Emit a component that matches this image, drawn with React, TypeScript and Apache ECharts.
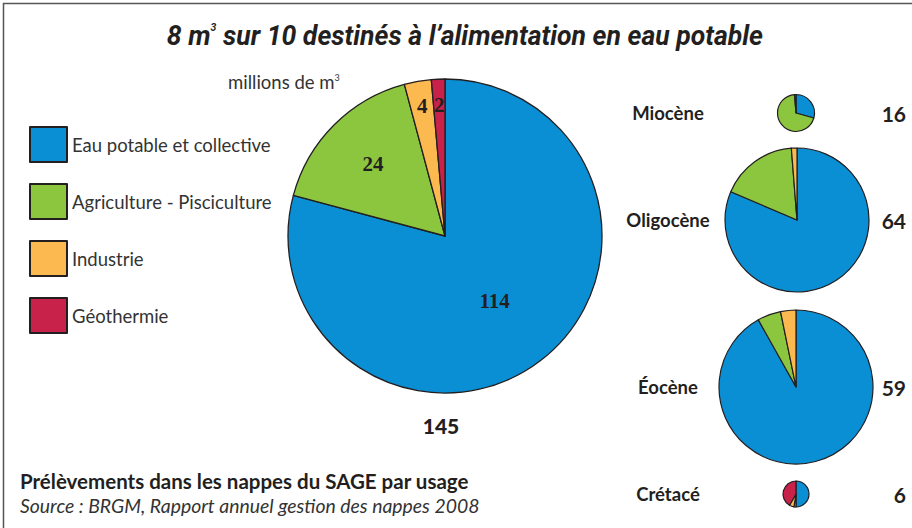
import React, { useEffect, useRef } from 'react';
import * as echarts from 'echarts';

const categories = ['Eau potable et collective', 'Agriculture - Pisciculture', 'Industrie', 'Géothermie'];
const colors = ['#0a8fd5', '#8cc63f', '#fbb950', '#c8224a'];
const mainValues = [114, 24, 4, 2];
const mainTotal = '145';
const aquifers = ['Miocène', 'Oligocène', 'Éocène', 'Crétacé'];
const aquiferTotals = ['16', '64', '59', '6'];
const miocene = [4.7, 11.1, 0.2, 0];
const oligocene = [52.1, 11.1, 0.8, 0];
const eocene = [54.2, 2.9, 1.9, 0];
const cretace = [3.0, 0.15, 0.35, 2.5];

const aquiferValues = [miocene, oligocene, eocene, cretace];
const aquiferCenters = [[796, 113], [797, 220], [796, 387], [796, 494]];
const aquiferRadii = [18.5, 72, 77, 13];

const INK = '#231f20';
const SANS = 'Lato, "Open Sans", sans-serif';
const SERIF = '"Liberation Serif", "DejaVu Serif", serif';
const TITLE_FONT = 'Roboto, "Liberation Sans", sans-serif';

export default function App() {
  const ref = useRef<HTMLDivElement>(null);
  useEffect(() => {
    const chart = echarts.init(ref.current!, null, { renderer: 'svg' });
    const mainCenter = [445, 236];
    const mainR = 157;
    const labelStyle = { fontFamily: SERIF, fontWeight: 'bold', fontSize: 21, color: INK };

    const mainData = mainValues.map((v, i) => ({
      name: categories[i],
      value: v,
      itemStyle: { color: colors[i] },
      label: { show: i === 0 },
    }));
    const overlay = (r0: number, show: number[]) => ({
      type: 'pie',
      silent: true,
      center: mainCenter,
      radius: [r0, mainR],
      startAngle: 90,
      clockwise: true,
      labelLine: { show: false },
      itemStyle: { color: 'transparent', borderWidth: 0 },
      emphasis: { disabled: true },
      label: { show: true, position: 'inside', formatter: '{c}', ...labelStyle },
      data: mainValues.map((v, i) => ({
        name: categories[i] + ' ',
        value: v,
        label: { show: show.includes(i) },
      })),
    });

    const smallPies = aquiferValues.map((vals, k) => ({
      type: 'pie',
      silent: true,
      center: aquiferCenters[k],
      radius: aquiferRadii[k],
      startAngle: 90,
      clockwise: true,
      label: { show: false },
      labelLine: { show: false },
      itemStyle: { borderColor: INK, borderWidth: 1.2 },
      data: vals
        .map((v, i) => ({ name: categories[i], value: v, itemStyle: { color: colors[i] } }))
        .filter((d) => d.value > 0),
    }));

    const texts: any[] = [];
    aquifers.forEach((name, k) => {
      texts.push({
        type: 'text',
        x: 668,
        y: aquiferCenters[k][1],
        style: { text: name, fontFamily: SANS, fontWeight: 'bold', fontSize: 18.5, fill: INK, align: 'center', verticalAlign: 'middle' },
      });
      texts.push({
        type: 'text',
        x: 906,
        y: aquiferCenters[k][1],
        style: { text: aquiferTotals[k], fontFamily: SANS, fontWeight: 'bold', fontSize: 21, fill: INK, align: 'right', verticalAlign: 'middle' },
      });
    });

    chart.setOption({
      animation: false,
      backgroundColor: '#ffffff',
      legend: {
        orient: 'vertical',
        left: 24,
        top: 121,
        itemWidth: 37,
        itemHeight: 35,
        itemGap: 20,
        icon: 'rect',
        selectedMode: false,
        data: categories,
        textStyle: { fontFamily: SANS, fontSize: 18.5, color: '#333333', lineHeight: 20 },
      },
      graphic: [
        {
          type: 'rect',
          shape: { x: 3.5, y: 3.5, width: 960, height: 600 },
          style: { fill: 'none', stroke: '#555555', lineWidth: 1.5 },
          silent: true,
        },
        {
          type: 'text',
          x: 465,
          y: 36,
          scaleX: 0.95,
          style: {
            text: '8 m{sup|3} sur 10 destinés à l\u2019alimentation en eau potable',
            fontFamily: TITLE_FONT,
            fontWeight: 'bold',
            fontStyle: 'italic',
            fontSize: 28,
            fill: INK,
            align: 'center',
            verticalAlign: 'middle',
            rich: {
              sup: { fontSize: 11, fontWeight: 'bold', fontStyle: 'italic', fill: INK, verticalAlign: 'top', fontFamily: TITLE_FONT },
            },
          },
        },
        {
          type: 'text',
          x: 228,
          y: 82,
          style: {
            text: 'millions de m{sup|3}',
            fontFamily: SANS,
            fontSize: 18.5,
            fill: '#333333',
            align: 'left',
            verticalAlign: 'middle',
            rich: { sup: { fontSize: 9, fill: '#333333', verticalAlign: 'top', fontFamily: SANS } },
          },
        },
        {
          type: 'text',
          x: 441,
          y: 425,
          style: { text: mainTotal, fontFamily: SANS, fontWeight: 900, fontSize: 21, fill: INK, align: 'center', verticalAlign: 'middle' },
        },
        {
          type: 'text',
          x: 20,
          y: 481,
          style: { text: 'Prélèvements dans les nappes du SAGE par usage', fontFamily: SANS, fontWeight: 'bold', fontSize: 20.5, fill: INK, align: 'left', verticalAlign: 'middle' },
        },
        {
          type: 'text',
          x: 20,
          y: 505,
          style: { text: 'Source : BRGM, Rapport annuel gestion des nappes 2008', fontFamily: SANS, fontStyle: 'italic', fontSize: 19.4, fill: '#333333', align: 'left', verticalAlign: 'middle' },
        },
        ...texts,
      ],
      series: [
        {
          type: 'pie',
          silent: true,
          center: mainCenter,
          radius: mainR,
          startAngle: 90,
          clockwise: true,
          itemStyle: { borderColor: INK, borderWidth: 1.3 },
          labelLine: { show: false },
          label: { position: 'inside', formatter: '{c}', ...labelStyle },
          data: mainData,
        },
        overlay(41, [1]),
        overlay(100, [2, 3]),
        ...smallPies,
      ],
    });
    return () => chart.dispose();
  }, []);
  return (
    <div
      ref={ref}
      style={{ position: 'absolute', left: 0, top: 0, width: 912, height: 528, background: '#fff' }}
    />
  );
}
